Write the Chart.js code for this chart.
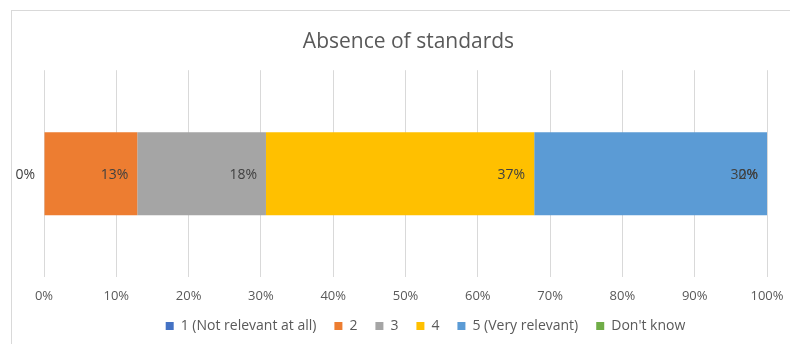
<!DOCTYPE html>
<html>
<head>
<meta charset="utf-8">
<script src="https://cdn.jsdelivr.net/npm/chart.js@4"></script>
<style>
  html, body { margin: 0; padding: 0; background: #fff; overflow: hidden; }
  #frame {
    position: absolute; left: 11px; top: 10px;
    width: 800px; height: 360px;
    border: 1px solid #d9d9d9; box-sizing: border-box;
  }
  #wrap { position: absolute; left: 0; top: 0; width: 790px; height: 344px; }
</style>
</head>
<body>
<div id="frame"></div>
<div id="wrap"><canvas id="chart"></canvas></div>
<script>
// ---------------------------------------------------------------------------
// DONNÉES
// ---------------------------------------------------------------------------
const categories = ["Absence of standards"];
const seriesNames = ["1 (Not relevant at all)", "2", "3", "4", "5 (Very relevant)", "Don't know"];
const seriesValues = [0, 12.9, 17.8, 37.1, 32.2, 0];
const seriesColors = ["#4472C4", "#ED7D31", "#A5A5A5", "#FFC000", "#5B9BD5", "#70AD47"];
const tickValues = [0, 10, 20, 30, 40, 50, 60, 70, 80, 90, 100];

const FONT = "'Open Sans', 'Noto Sans', sans-serif";

// ---------------------------------------------------------------------------
// ÉTIQUETTES "INSIDE END"
// ---------------------------------------------------------------------------
const endLabels = {
    id: "endLabels",
    afterDatasetsDraw(chart) {
        const ctx = chart.ctx;
        ctx.save();
        ctx.font = "14px " + FONT;
        ctx.fillStyle = "#404040";
        ctx.textAlign = "right";
        ctx.textBaseline = "middle";
        chart.data.datasets.forEach((ds, i) => {
            const meta = chart.getDatasetMeta(i);
            meta.data.forEach((bar, j) => {
                const txt = Math.round(ds.data[j]) + "%";
                ctx.fillText(txt, bar.x - 9, bar.y + 1);
            });
        });
        ctx.restore();
    }
};

// légende et titre un peu décalés à droite, comme dans Excel
const shiftBlocks = {
    id: "shiftBlocks",
    afterLayout(chart) {
        chart.legend.left += 20;
        chart.legend.right += 20;
        chart.titleBlock.left += 3;
        chart.titleBlock.right += 3;
    }
};

const datasets = seriesNames.map((name, i) => ({
    label: name,
    data: [seriesValues[i]],
    backgroundColor: seriesColors[i],
    borderWidth: 0,
    barPercentage: 1,
    categoryPercentage: 0.4
}));

new Chart(document.getElementById("chart"), {
    type: "bar",
    data: { labels: categories, datasets: datasets },
    plugins: [endLabels, shiftBlocks],
    options: {
        indexAxis: "y",
        responsive: true,
        maintainAspectRatio: false,
        animation: false,
        layout: { padding: { left: 44, right: 23, top: 16, bottom: 1 } },
        scales: {
            x: {
                stacked: true,
                min: 0,
                max: 100,
                afterBuildTicks: axis => { axis.ticks = tickValues.map(v => ({ value: v })); },
                afterFit: axis => {
                    axis.height -= 14;
                    axis.paddingRight = 0;
                    axis.paddingLeft = 0;
                },
                grid: { color: "#d9d9d9", drawTicks: false },
                border: { display: false },
                ticks: {
                    padding: 11,
                    color: "#595959",
                    font: { size: 13, family: FONT },
                    callback: v => v + "%"
                }
            },
            y: {
                stacked: true,
                display: false
            }
        },
        plugins: {
            title: {
                display: true,
                text: "Absence of standards",
                color: "#595959",
                font: { size: 21, family: FONT, weight: "normal" },
                padding: { top: 13, bottom: 16 }
            },
            legend: {
                position: "bottom",
                labels: {
                    boxWidth: 8,
                    boxHeight: 8,
                    padding: 18,
                    color: "#595959",
                    font: { size: 14, family: FONT }
                }
            },
            tooltip: { enabled: false }
        }
    }
});
</script>
</body>
</html>
